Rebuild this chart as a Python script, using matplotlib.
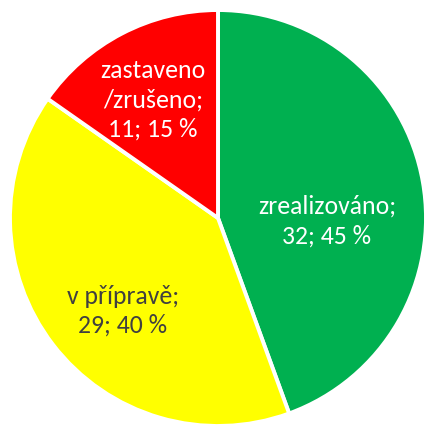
import matplotlib.pyplot as plt

# === Data ===
labels = ["zrealizováno;", "v přípravě;", "zastaveno\n/zrušeno;"]
values = [32, 29, 11]
percents = [45, 40, 15]
colors = ["#00B050", "#FFFF00", "#FF0000"]
text_colors = ["white", "#404040", "white"]
label_pos = [(0.524, -0.01), (-0.457, -0.442), (-0.3125, 0.572)]

plt.rcParams['font.family'] = ['Carlito', 'Open Sans', 'DejaVu Sans']

fig = plt.figure(figsize=(4.26, 4.27), dpi=100)
ax = fig.add_axes([0, 0, 1, 1])

ax.pie(values, colors=colors, startangle=90, counterclock=False,
       radius=1.0, center=(0, 0),
       wedgeprops=dict(edgecolor="white", linewidth=2.8))

for lab, v, p, (x, y), c in zip(labels, values, percents, label_pos, text_colors):
    ax.text(x, y, f"{lab}\n{v}; {p} %", ha="center", va="center",
            color=c, fontsize=18.5, linespacing=1.32)

ax.set_xlim(-1.048, 1.0)
ax.set_ylim(-1.0, 1.053)
ax.set_aspect("auto")
ax.axis("off")

fig.savefig("out.png", dpi=100)
fig.canvas.draw()
print(ax.get_xlim(), ax.get_ylim(), ax.get_aspect(), ax.get_position().bounds)
print(ax.transData.transform([(1, 0), (-1, 0), (0, 1), (0, -1)]))
import sys
sys.stderr.write(str(ax.transData.transform([(1, 0), (-1, 0), (0, 1), (0, -1)])))
